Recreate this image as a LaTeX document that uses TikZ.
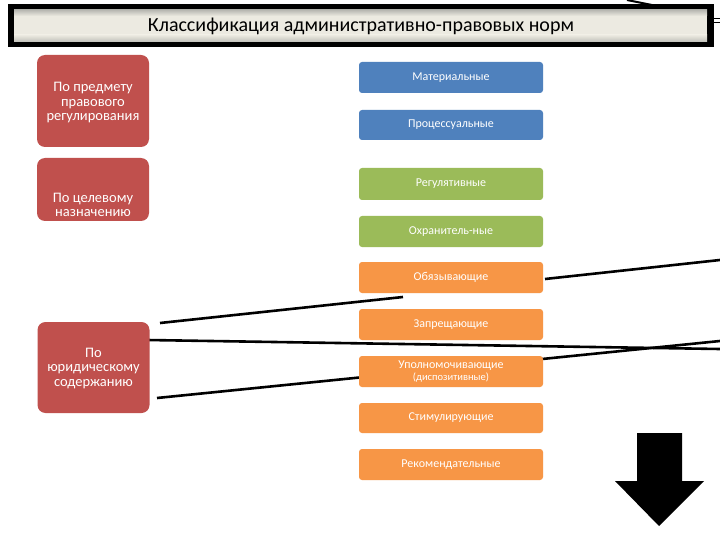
\documentclass[tikz,border=0pt]{standalone}
\usepackage{fontspec}
\setmainfont{Carlito}
\definecolor{redbox}{HTML}{C0504D}
\definecolor{bluebox}{HTML}{4F81BD}
\definecolor{greenbox}{HTML}{9BBB59}
\definecolor{orangebox}{HTML}{F79646}
\definecolor{titletop}{HTML}{B8B8B2}
\definecolor{titlemid}{HTML}{ECEAE1}
\definecolor{titlebot}{HTML}{BFBFB8}
\tikzset{
  redcard/.style={fill=redbox, draw=none, rounded corners=8pt, minimum width=112pt, inner sep=0pt},
  redtext/.style={text=white, align=center, font=\fontsize{14.5}{14.5}\selectfont, inner sep=0pt},
  smallcard/.style={draw=none, rounded corners=3pt, minimum width=184pt, inner sep=0pt, text=white, font=\fontsize{12}{13}\selectfont, align=center},
  bluecard/.style={smallcard, fill=bluebox},
  greencard/.style={smallcard, fill=greenbox},
  orangecard/.style={smallcard, fill=orangebox},
  strayline/.style={draw=black, line width=2.6pt},
}
\begin{document}
\begin{tikzpicture}[x=1pt,y=-1pt]
\useasboundingbox (0,0) rectangle (720,540);
\fill[white] (0,0) rectangle (720,540);

% stray lines (drawn below the boxes)
\coordinate (l1a) at (160,323); \coordinate (l1b) at (403,297);
\coordinate (l1c) at (545,279); \coordinate (l1d) at (720,260);
\coordinate (l2a) at (147,340); \coordinate (l2b) at (720,349);
\coordinate (l3a) at (157,398); \coordinate (l3b) at (720,341);
\draw[strayline] (l1a) -- (l1b);
\draw[strayline] (l1c) -- (l1d);
\draw[strayline] (l2a) -- (l2b);
\draw[strayline] (l3a) -- (l3b);
\coordinate (t1a) at (627,0); \coordinate (t1b) at (652,5);
\draw[line width=2pt] (t1a) -- (t1b);
\coordinate (t2a) at (714,19); \coordinate (t2b) at (720,19);
\coordinate (t3a) at (714,23); \coordinate (t3b) at (720,23);
\draw[line width=1pt] (t2a) -- (t2b);
\draw[line width=1pt] (t3a) -- (t3b);

% title bar
\fill[black] (8,4) rectangle (714,47);
\fill[titlemid] (14,10) rectangle (707,42);
\shade[top color=titletop, bottom color=titlemid] (14,10) rectangle (707,16);
\shade[top color=titlemid, bottom color=titlebot] (14,35) rectangle (707,42);
\node[font=\fontsize{20}{22}\selectfont, inner sep=0pt] (title) at (361,26) {Классификация административно-правовых норм};

% red category boxes
\node[redcard, minimum height=92pt] (r1) at (93,101) {};
\node[redtext] (r1t) at (93,103) {По предмету\\правового\\регулирования};
\node[redcard, minimum height=63pt] (r2) at (93,189.5) {};
\node[redtext] (r2t) at (93,205) {По целевому\\назначению};
\node[redcard, minimum height=91pt] (r3) at (93.5,367.5) {};
\node[redtext] (r3t) at (93.5,368.5) {По\\юридическому\\содержанию};

% right boxes
\node[bluecard, minimum height=31pt] (b1) at (451,77.5) {Материальные};
\node[bluecard, minimum height=30pt] (b2) at (451,125) {Процессуальные};
\node[greencard, minimum height=32pt] (g1) at (451,184) {Регулятивные};
\node[greencard, minimum height=31pt] (g2) at (451,231.5) {Охранитель-ные};
\node[orangecard, minimum height=31pt] (o1) at (451,277.5) {Обязывающие};
\node[orangecard, minimum height=31pt] (o2) at (451,324.5) {Запрещающие};
\node[orangecard, minimum height=31pt] (o3) at (451,371.5) {Уполномочивающие\\[-1.5pt]{\fontsize{10.5}{11}\selectfont(диспозитивные)}};
\node[orangecard, minimum height=30pt] (o4) at (451,418) {Стимулирующие};
\node[orangecard, minimum height=31pt] (o5) at (451,464.5) {Рекомендательные};

% down arrow
\fill[black] (637,433) -- (682,433) -- (682,481) -- (704,481) -- (659,526) -- (615,481) -- (637,481) -- cycle;
\end{tikzpicture}
\end{document}
